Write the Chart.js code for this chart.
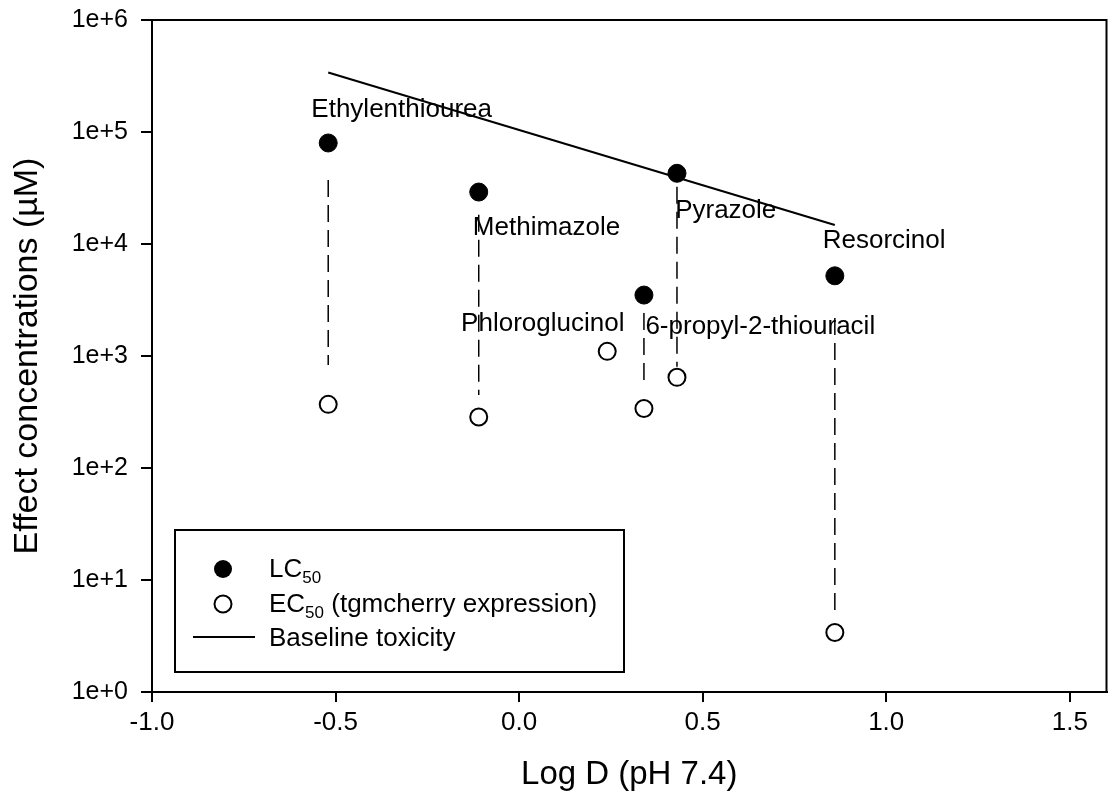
<!DOCTYPE html>
<html><head><meta charset="utf-8">
<script src="https://cdn.jsdelivr.net/npm/chart.js@4/dist/chart.umd.min.js"></script>
<style>html,body{margin:0;padding:0;background:#fff}</style>
</head><body><canvas id="c" width="1117" height="803"></canvas>
<script>
const compounds = ['Ethylenthiourea','Methimazole','Phloroglucinol','6-propyl-2-thiouracil','Pyrazole','Resorcinol'];
const logD = [-0.52, -0.11, 0.24, 0.34, 0.43, 0.86];
const lc50 = [79800, 29100, null, 3500, 42800, 5200];
const ec50 = [370, 285, 1100, 340, 645, 3.4];
const baselineX = [-0.52, 0.86];
const baselineY = [340000, 14800];
const connX = [-0.52, -0.11, 0.34, 0.43, 0.86];
const connTop = [37300, 18200, 2420, 32500, 2185];
const connBottom = [830, 449, 611, 802, 5.3];
const labelX = [-0.566, -0.126, -0.158, 0.344, 0.425, 0.827];
const labelY = [157000, 13900, 1930, 1815, 19700, 10600];
const xTicks = [-1.0, -0.5, 0.0, 0.5, 1.0, 1.5];
const yTicks = [1, 10, 100, 1000, 10000, 100000, 1000000];

const SANS = "'Liberation Sans', Arial, sans-serif";
const NARROW = "'Liberation Sans Narrow', 'Liberation Sans', Arial, sans-serif";
Chart.defaults.font.family = SANS;
Chart.defaults.color = '#000';

const datasets = [
  {label: 'LC50', data: logD.map((x, i) => ({x, y: lc50[i]})).filter(p => p.y != null),
   pointRadius: 9, pointBackgroundColor: '#000', pointBorderColor: '#000', pointBorderWidth: 1, showLine: false},
  {label: 'EC50 (tgmcherry expression)', data: logD.map((x, i) => ({x, y: ec50[i]})),
   pointRadius: 8.5, pointBackgroundColor: '#fff', pointBorderColor: '#000', pointBorderWidth: 2, showLine: false},
  {label: 'Baseline toxicity', data: baselineX.map((x, i) => ({x, y: baselineY[i]})),
   showLine: true, borderColor: '#000', borderWidth: 2, pointRadius: 0},
  ...connX.map((x, i) => ({label: 'connector ' + compounds[i], data: [{x, y: connTop[i]}, {x, y: connBottom[i]}],
   showLine: true, borderColor: '#000', borderWidth: 1.5, borderDash: [17, 8], pointRadius: 0}))
];

const framePlugin = {
  id: 'frame',
  afterDatasetsDraw(chart) {
    const {ctx, chartArea: a} = chart;
    ctx.save();
    ctx.strokeStyle = '#000'; ctx.lineWidth = 2;
    ctx.beginPath();
    ctx.moveTo(a.left, a.top); ctx.lineTo(a.right, a.top); ctx.lineTo(a.right, a.bottom);
    ctx.stroke();
    // compound labels
    const xs = chart.scales.x, ys = chart.scales.y;
    ctx.fillStyle = '#000';
    ctx.font = '26px ' + SANS;
    ctx.textAlign = 'left'; ctx.textBaseline = 'middle';
    compounds.forEach((name, i) => {
      ctx.fillText(name, xs.getPixelForValue(labelX[i]), ys.getPixelForValue(labelY[i]));
    });
    // legend
    const L = 175, T = 530, W = 449, H = 142;
    ctx.lineWidth = 2;
    ctx.strokeRect(L, T, W, H);
    const mx = 223, tx = 269;
    const rows = [569, 604, 637];
    ctx.beginPath(); ctx.arc(mx, rows[0], 9, 0, Math.PI * 2); ctx.fill();
    ctx.beginPath(); ctx.arc(mx, rows[1], 8.5, 0, Math.PI * 2); ctx.fillStyle = '#fff'; ctx.fill(); ctx.stroke();
    ctx.fillStyle = '#000';
    ctx.beginPath(); ctx.moveTo(193, rows[2]); ctx.lineTo(255, rows[2]); ctx.stroke();
    const big = '26px ' + SANS, small = '17px ' + SANS;
    ctx.textBaseline = 'alphabetic';
    function sub(main, s, rest, y) {
      ctx.font = big; ctx.fillText(main, tx, y + 9);
      let w = ctx.measureText(main).width;
      ctx.font = small; ctx.fillText(s, tx + w, y + 15);
      let w2 = ctx.measureText(s).width;
      if (rest) { ctx.font = big; ctx.fillText(rest, tx + w + w2, y + 9); }
    }
    sub('LC', '50', '', rows[0] - 1);
    sub('EC', '50', ' (tgmcherry expression)', rows[1] - 1);
    ctx.font = big; ctx.fillText('Baseline toxicity', tx, rows[2] + 9);
    ctx.restore();
  }
};

new Chart(document.getElementById('c'), {
  type: 'scatter',
  data: {datasets},
  options: {
    responsive: false, animation: false, devicePixelRatio: 1,
    layout: {padding: {left: 0, right: 3, top: 20, bottom: 0}},
    plugins: {legend: {display: false}, tooltip: {enabled: false}},
    scales: {
      x: {
        type: 'linear', min: -1, max: 1.6,
        afterBuildTicks: s => { s.ticks = xTicks.map(v => ({value: v})); },
        afterFit: s => { s.height = 111; s.paddingLeft = 0; s.paddingRight = 0; },
        ticks: {callback: v => v.toFixed(1), font: {family: NARROW, size: 26}, padding: 5, maxRotation: 0, autoSkip: false, color: '#000'},
        grid: {drawOnChartArea: false, drawTicks: true, tickLength: 10, color: '#000', lineWidth: 2},
        border: {color: '#000', width: 2},
        title: {display: true, text: 'Log D (pH 7.4)', font: {family: NARROW, size: 33}, padding: {top: 0, bottom: 8}, color: '#000'}
      },
      y: {
        type: 'logarithmic', min: 1, max: 1000000,
        afterBuildTicks: s => { s.ticks = yTicks.map(v => ({value: v})); },
        afterFit: s => { s.width = 152; s.paddingTop = 0; s.paddingBottom = 0; },
        ticks: {callback: v => '1e+' + Math.round(Math.log10(v)), font: {size: 25}, padding: 13, autoSkip: false, color: '#000'},
        grid: {drawOnChartArea: false, drawTicks: true, tickLength: 11, color: '#000', lineWidth: 2},
        border: {color: '#000', width: 2},
        title: {display: true, text: 'Effect concentrations (µM)', font: {size: 34}, padding: {top: 7, bottom: 0}, color: '#000'}
      }
    }
  },
  plugins: [framePlugin]
});
</script></body></html>
